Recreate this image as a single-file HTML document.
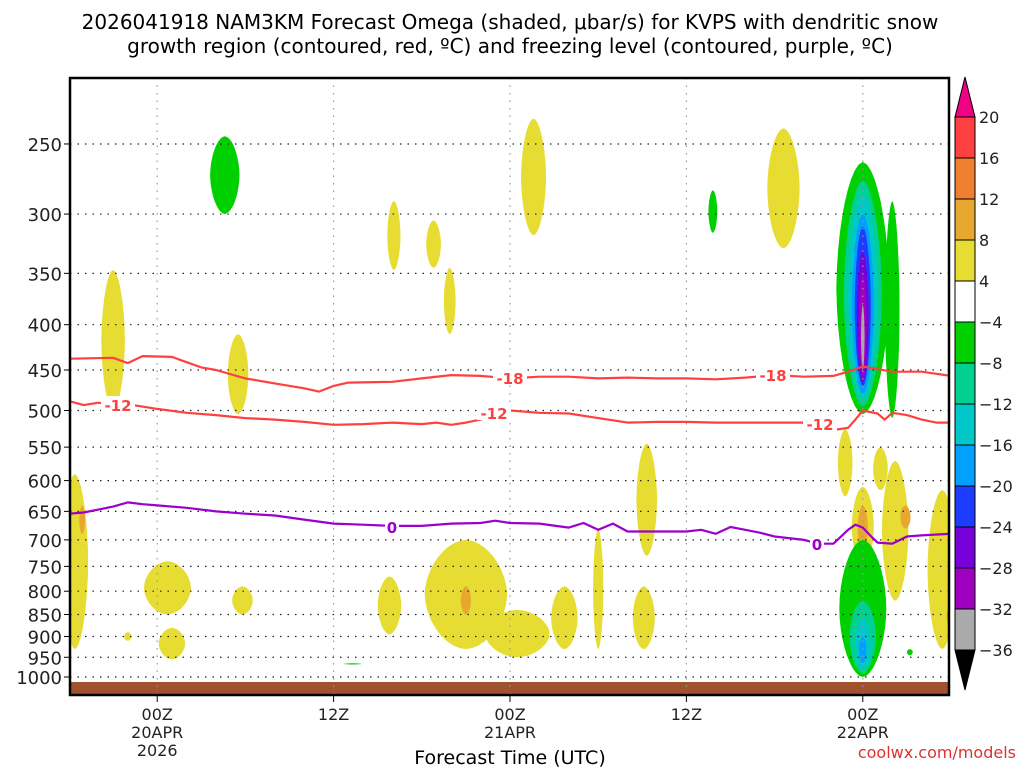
<!DOCTYPE html>
<html><head><meta charset="utf-8"><style>
body{margin:0;background:#fff;}
svg{display:block;font-family:"DejaVu Sans","Liberation Sans",sans-serif;}
</style></head><body>
<svg id="c" width="1024" height="768" viewBox="0 0 1024 768" xmlns="http://www.w3.org/2000/svg">
<defs><clipPath id="clip"><rect x="70" y="78" width="879" height="617"/></clipPath></defs>
<text x="510" y="29" text-anchor="middle" font-size="20" fill="#000">2026041918 NAM3KM Forecast Omega (shaded, μbar/s) for KVPS with dendritic snow</text>
<text x="510" y="53" text-anchor="middle" font-size="20" fill="#000">growth region (contoured, red, ºC) and freezing level (contoured, purple, ºC)</text>
<g id="plot" clip-path="url(#clip)"></g>
<g id="axes"></g>
<text x="510" y="764" text-anchor="middle" font-size="19" fill="#000">Forecast Time (UTC)</text>
<text x="1016" y="758" text-anchor="end" font-size="16" fill="#e03030">coolwx.com/models</text>
</svg>
<script>
const pLevels=[250,300,350,400,450,500,550,600,650,700,750,800,850,900,950,1000];
const tickHours=[6,18,30,42,54];
const tickLabels=[["00Z","20APR","2026"],["12Z"],["00Z","21APR"],["12Z"],["00Z","22APR"]];
const cbLabels=["20","16","12","8","4","-4","-8","-12","-16","-20","-24","-28","-32","-36"];
const cbColors=["#ff4040","#f08030","#e8a830","#e6dc32","#ffffff","#00d000","#00d090","#00c8c8","#00a0ff","#1e3cff","#7800d8","#a000c0","#aaaaaa"];
// blobs: [hour, halfWidthHours, pTop, pBottom, colorIndex]
const blobHour=[10.6,3.0,11.5,22.1,24.8,25.9,31.6,43.8,48.6,54,54,54,54,54,54,54,54,56.0,52.8,55.2,54,54,56.2,56.9,59.4,60,54,54,54,54,57.2,0.4,0.9,6.7,7.0,4.0,11.8,21.8,19.3,27.0,30.5,27.0,33.7,36.0,39.1,39.3];
const blobHW=[1.0,0.8,0.7,0.45,0.5,0.4,0.85,0.3,1.1,1.8,1.3,1.0,0.75,0.55,0.4,0.25,0.12,0.5,0.5,0.5,0.75,0.35,0.9,0.35,1.0,0.3,1.6,0.9,0.55,0.25,0.2,0.9,0.2,1.6,0.9,0.25,0.7,0.8,0.6,2.8,2.2,0.35,0.9,0.35,0.75,0.7];
const blobTop=[245,347,410,290,305,345,234,282,240,262,275,285,300,310,330,350,380,290,525,550,610,640,570,640,615,830,700,820,860,900,930,590,640,740,880,890,790,770,965,700,840,790,790,680,790,545];
const blobBot=[300,500,505,347,345,410,317,315,328,505,495,485,480,470,465,460,450,510,625,615,750,720,820,680,930,880,1000,990,980,965,945,930,690,850,955,910,850,895,968,930,950,850,930,930,930,730];
const blobColor=[5,3,3,3,3,3,3,5,3,5,6,7,8,9,10,11,12,5,3,3,3,2,3,2,3,2,5,6,7,8,5,3,2,3,3,3,3,3,5,3,3,2,3,3,3,3];
const tempHours=[0,3,4,5,7,8,9,10,12,14,16,17,18,19,22,24,26,28,30,32,34,36,38,40,42,44,46,48,50,52,53,54,55,56,58,60];
const minus18P=[437,436,442,434,435,441,447,450,460,466,472,476,469,465,464,460,456,457,460,458,458,460,459,460,460,461,459,456,458,457,452,446,449,452,452,457];
const m12Hours=[0,1,2,3,4,5,6,8,10,12,14,16,18,20,22,24,25,26,27,28,29,30,32,34,36,38,40,42,44,46,48,50,51,52,53,53.5,54,55,55.5,56,57,58,59,60];
const minus12P=[488,493,490,493,492,495,498,503,506,510,512,515,519,518,516,518,516,519,516,512,503,500,503,504,510,516,515,515,516,516,516,516,518,526,523,512,500,504,512,503,506,512,516,516];
const zeroHours=[0,1,2,3,4,5,6,8,10,12,14,16,18,20,22,24,26,28,29,30,32,34,35,36,37,38,40,42,43,44,45,46,47,48,50,51,52,53,53.5,54,54.5,55,56,57,58,60];
const zeroP=[654,652,647,642,635,638,640,644,650,654,657,664,671,673,675,675,671,670,666,670,671,678,670,682,671,685,685,685,682,689,677,682,687,694,700,707,707,682,673,678,692,705,707,694,692,689];

const NS="http://www.w3.org/2000/svg";
const L=70,R=949,T=78,B=695;
const X=h=>69+h*14.7;
const Y=p=>677-384.5*(Math.log(1000)-Math.log(p));
const plot=document.getElementById('plot');
const axes=document.getElementById('axes');
const svg=document.getElementById('c');
function mk(tag,attrs,parent){const e=document.createElementNS(NS,tag);for(const k in attrs)e.setAttribute(k,attrs[k]);(parent||plot).appendChild(e);return e;}

for(let i=0;i<blobHour.length;i++){
  const cx=X(blobHour[i]),rx=blobHW[i]*14.7,y1=Y(blobTop[i]),y2=Y(blobBot[i]);
  const cy=(y1+y2)/2,ry=(y2-y1)/2;const pts=[];
  for(let a=0;a<40;a++){const t=a/40*2*Math.PI,c=Math.cos(t),s=Math.sin(t);
    const r=Math.pow(Math.pow(Math.abs(c),1.8)+Math.pow(Math.abs(s),1.8),-1/1.8);
    pts.push((cx+rx*r*c).toFixed(1)+","+(cy+ry*r*s).toFixed(1));}
  const b=mk('polygon',{points:pts.join(' '),fill:cbColors[blobColor[i]]});
  
  
}
const g=mk('rect',{x:L,y:682,width:R-L,height:B-682,fill:'#a0522d'});


pLevels.forEach(p=>{const y=Y(p);
  const gl=mk('line',{x1:L,x2:R,y1:y,y2:y,stroke:'#222','stroke-width':1.2,'stroke-dasharray':'1.5 6'});
  
  
  mk('line',{x1:L-6,x2:L,y1:y,y2:y,stroke:'#000'},axes);
  const t=mk('text',{x:L-8,y:y+7,'text-anchor':'end','font-size':18,fill:'#222'},axes);t.textContent=p;
  
  
});
tickHours.forEach((h,i)=>{const x=X(h);
  const vl=mk('line',{x1:x,x2:x,y1:T,y2:B,stroke:'#999','stroke-width':1.2,'stroke-dasharray':'1.5 6'});
  
  
  mk('line',{x1:x,x2:x,y1:B,y2:B+7,stroke:'#000'},axes);
  tickLabels[i].forEach((s,j)=>{const t=mk('text',{x:x,y:B+25+j*18,'text-anchor':'middle','font-size':16,fill:'#222'},axes);t.textContent=s;
    
    });
});
function line(hs,ps,color,name){const d=hs.map((h,i)=>(i?'L':'M')+X(h).toFixed(1)+','+Y(ps[i]).toFixed(1)).join(' ');
  const e=mk('path',{d:d,fill:'none',stroke:color,'stroke-width':2.2,'stroke-linejoin':'round'});
  
  }
line(tempHours,minus18P,'#ff4040','minus18-contour');
line(m12Hours,minus12P,'#ff4040','minus12-contour');
line(zeroHours,zeroP,'#9b00cc','freezing-level-contour');
function lab(x,y,s,c){mk('rect',{x:x-s.length*5-2,y:y-9,width:s.length*10+4,height:16,fill:'#fff'});
  const t=mk('text',{x:x,y:y+6,'text-anchor':'middle','font-size':15,'font-weight':'bold',fill:c});t.textContent=s;
  
  }
lab(510,378,'-18','#ff4040');lab(773,375,'-18','#ff4040');
lab(118,405,'-12','#ff4040');lab(494,413,'-12','#ff4040');lab(820,424,'-12','#ff4040');
lab(392,527,'0','#9b00cc');lab(817,544,'0','#9b00cc');
const bd=mk('rect',{x:L,y:T,width:R-L,height:B-T,fill:'none',stroke:'#000','stroke-width':2.5},axes);


const cb=mk('g',{},svg);
const cbX=955,cbW=20,cbTop=117,band=41;
mk('polygon',{points:`${cbX},${cbTop} ${cbX+cbW},${cbTop} ${cbX+cbW/2},77`,fill:'#f00082',stroke:'#000'},cb);
cbColors.forEach((c,i)=>{mk('rect',{x:cbX,y:cbTop+i*band,width:cbW,height:band,fill:c,stroke:'#000'},cb);});
const cbBot=cbTop+cbColors.length*band;
mk('polygon',{points:`${cbX},${cbBot} ${cbX+cbW},${cbBot} ${cbX+cbW/2},690`,fill:'#000',stroke:'#000'},cb);
cbLabels.forEach((s,i)=>{const t=mk('text',{x:cbX+24,y:cbTop+i*band+6,'font-size':16,fill:'#222'},cb);t.textContent=s.replace('-','−');
  
  });
</script>
</body></html>
